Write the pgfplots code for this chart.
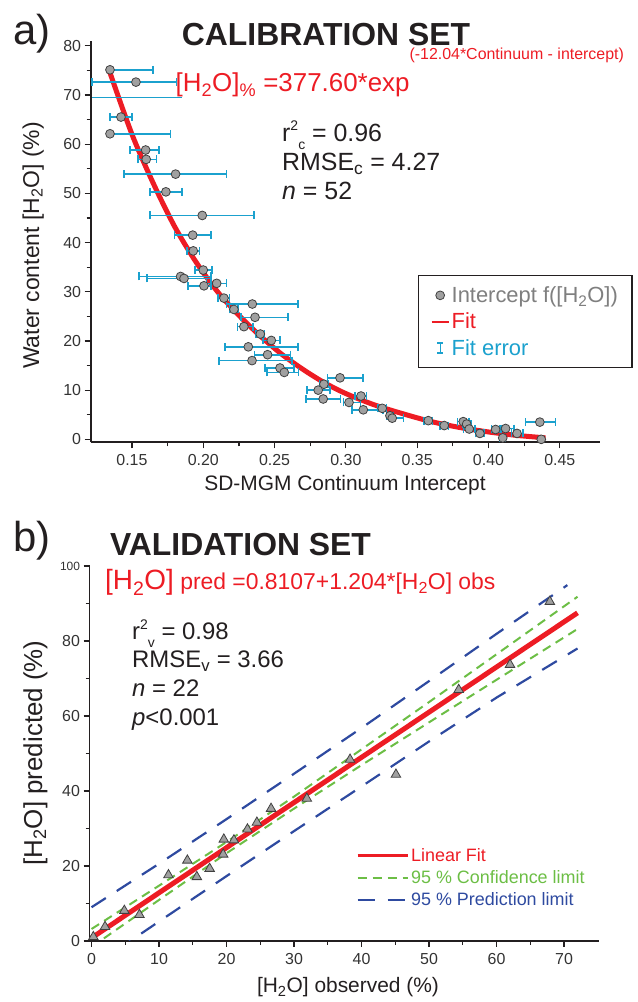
\documentclass[border=0pt]{standalone}
\usepackage{pgfplots}
\pgfplotsset{compat=1.18}
\usepackage{pgfplotstable}
\usepackage{fontspec}
\setmainfont{Liberation Sans}
\definecolor{fitred}{HTML}{ED1C24}
\definecolor{barblue}{HTML}{1BA1CE}
\definecolor{ptgray}{HTML}{A0A0A0}
\definecolor{ptedge}{HTML}{404040}
\definecolor{legray}{HTML}{7F7F7F}
\definecolor{cgreen}{HTML}{6CBE45}
\definecolor{pblue}{HTML}{2E4AA0}
\definecolor{txt}{HTML}{231F20}
\newcommand{\supsub}[2]{\raisebox{0.45em}{\fontsize{14}{14}\selectfont #1}\raisebox{-0.3em}{\fontsize{14}{14}\selectfont #2}}

\pgfplotstableread{
x y em ep
0.1346 75.1 0 0.030
0.1528 72.6 0.031 0.0285
0.1423 65.5 0.0077 0.0077
0.1346 62.1 0 0.0425
0.1596 58.8 0.011 0.0093
0.1600 56.9 0.0056 0.0073
0.1806 53.9 0.036 0.0357
0.1738 50.3 0.0112 0.0111
0.1993 45.5 0.0367 0.0364
0.1926 41.5 0.0129 0.0128
0.1930 38.3 0.0045 0.0045
0.2000 34.4 0.006 0.006
0.1841 33.1 0.029 0.0213
0.1865 32.7 0.026 0.019
0.2005 31.2 0.011 0.005
0.2094 31.7 0.007 0.007
0.2145 28.7 0.004 0.004
0.2344 27.5 0.018 0.032
0.2215 26.4 0.003 0.003
0.2363 24.8 0.010 0.023
0.2285 22.9 0.0044 0.0065
0.2400 21.4 0.003 0.003
0.2477 20.1 0.006 0.006
0.2316 18.8 0.0164 0.035
0.2451 17.2 0.0093 0.016
0.2342 16.0 0.023 0.028
0.2538 14.5 0.0105 0.010
0.2568 13.6 0.0123 0.010
0.2959 12.5 0.0089 0.0163
0.2846 11.2 0.003 0.003
0.2806 10.0 0.008 0.0083
0.2841 8.2 0.012 0.012
0.3106 8.8 0.004 0.004
0.3022 7.5 0.004 0.008
0.3122 6.0 0.008 0.014
0.3255 6.3 0.003 0.003
0.3309 4.8 0.002 0.002
0.3325 4.3 0.002 0.008
0.3578 3.8 0.003 0.003
0.3690 2.8 0.003 0.003
0.3823 3.6 0.004 0.004
0.3847 3.1 0.003 0.003
0.3865 2.1 0.004 0.004
0.3940 1.2 0.003 0.003
0.4050 2.0 0.003 0.003
0.4100 0.3 0.002 0.002
0.4120 2.2 0.003 0.006
0.4200 1.2 0.004 0.004
0.4360 3.5 0.010 0.011
0.4370 0.0 0.001 0.001
}\calib

\pgfplotstableread{
x y
0.27 1.1
2.0 3.8
4.86 8.1
7.1 7.0
11.4 17.6
14.2 21.5
15.6 17.1
17.5 19.3
19.5 23.1
19.6 27.1
21.1 26.9
23.1 29.8
24.5 31.6
26.6 35.3
31.9 38.0
38.3 48.4
45.1 44.4
54.4 67.0
62.0 73.7
67.9 90.5
}\valid

\begin{document}
\begin{tikzpicture}[x=1bp,y=1bp]
\useasboundingbox (0,0) rectangle (638,1002);

% ---------------- top panel ----------------
\begin{axis}[
  at={(90.6bp,559.7bp)}, anchor=south west, scale only axis,
  width=509.1bp, height=401.5bp,
  xmin=0.121, xmax=0.478, ymin=-0.6, ymax=81,
  axis lines=left, axis line style={-, line width=1.8bp, txt},
  xtick={0.15,0.2,0.25,0.3,0.35,0.4,0.45},
  xticklabels={0.15,0.20,0.25,0.30,0.35,0.40,0.45},
  minor x tick num=1,
  ytick={0,10,20,30,40,50,60,70,80}, minor y tick num=1,
  tick align=outside, major tick length=6bp, minor tick length=4bp,
  tick style={txt, line width=1.2bp},
  tick label style={font=\fontsize{16}{19}\selectfont, color=black!80},
  xticklabel style={yshift=-3bp},
  /pgf/number format/assume math mode=true,
  clip mode=individual,
  legend cell align=left,
  legend style={at={(0.643,0.4167)}, anchor=north west, draw=txt, line width=1.4bp,
    fill=white, inner xsep=12bp, inner ysep=9bp, row sep=5bp,
    font=\fontsize{22}{25}\selectfont},
]
\addplot[fitred, line width=5bp, smooth, forget plot] coordinates {
(0.134,75) (0.15,62) (0.165,52) (0.18,43.2) (0.195,36) (0.21,30) (0.225,25.2)
(0.24,21) (0.255,17.3) (0.27,14.2) (0.285,11.5) (0.30,9.3) (0.32,7) (0.34,5.2)
(0.36,3.6) (0.38,2.4) (0.40,1.5) (0.42,0.8) (0.44,0.3)};
\addplot[draw=none, mark=none, forget plot,
  error bars/.cd, x dir=both, x explicit,
  error bar style={draw=barblue, line width=1.6bp},
  error mark=|, error mark options={draw=barblue, line width=1.6bp, mark size=4bp}]
  table[x=x, y=y, x error plus=ep, x error minus=em]{\calib};
\addplot[draw=none, mark=none, forget plot,
  error bars/.cd, x dir=both, x explicit,
  error bar style={draw=barblue, line width=1.6bp}, error mark=none]
  coordinates {(0.1533,69.5) +- (0.0316,0)};
\addplot[only marks, mark=*, mark size=4.4bp,
  mark options={fill=ptgray, draw=ptedge, line width=0.8bp}, forget plot]
  table[x=x, y=y]{\calib};
\addlegendimage{only marks, mark=*, mark size=4.4bp, mark options={fill=ptgray, draw=ptedge, line width=0.8bp}}
\addlegendentry{\textcolor{legray}{Intercept f([H\textsubscript{2}O])}}
\addlegendimage{fitred, line width=2bp}
\addlegendentry{\textcolor{fitred}{Fit}}
\addlegendimage{legend image code/.code={\draw[barblue, line width=1.2bp] (0.3cm,-5bp)--(0.3cm,5bp) (0.3cm-3bp,-5bp)--(0.3cm+3bp,-5bp) (0.3cm-3bp,5bp)--(0.3cm+3bp,5bp);}}
\addlegendentry{\textcolor{barblue}{Fit error}}
\end{axis}

% ---------------- bottom panel ----------------
\begin{axis}[
  at={(89.5bp,61bp)}, anchor=south west, scale only axis,
  width=509.6bp, height=375bp,
  xmin=-0.3, xmax=75.2, ymin=0, ymax=100,
  axis lines=left, axis line style={-, line width=1.8bp, txt},
  xtick={0,10,20,30,40,50,60,70}, minor x tick num=1,
  ytick={0,20,40,60,80,100}, minor y tick num=1,
  yticklabels={0,20,40,60,80,{\fontsize{12}{14}\selectfont 100}},
  tick align=outside, major tick length=6bp, minor tick length=4bp,
  tick style={txt, line width=1.2bp},
  tick label style={font=\fontsize{16}{19}\selectfont, color=black!80},
  xticklabel style={yshift=-3bp},
  /pgf/number format/assume math mode=true,
  clip mode=individual,
  legend cell align=left,
  legend image code/.code={\draw[#1] (0bp,0bp) -- (50bp,0bp);},
  legend style={at={(0.517,0.258)}, anchor=north west, draw=none, fill=none,
    font=\fontsize{18}{21}\selectfont, row sep=3.5bp},
]
\addplot[pblue, line width=2.2bp, dash pattern=on 17bp off 13bp, forget plot] coordinates {
(0,9.0) (10,20.6) (20,32.5) (30,44.6) (40,56.8) (50,69.3) (60,81.9) (70.5,94.9)};
\addplot[pblue, line width=2.2bp, dash pattern=on 17bp off 13bp, forget plot] coordinates {
(0,-7.0) (10,5.2) (20,17.3) (30,29.3) (40,41.2) (50,53.2) (60,64.9) (72,78.0)};
\addplot[cgreen, line width=2bp, dash pattern=on 9bp off 6bp, forget plot] coordinates {
(0,3.2) (10,14.75) (20,26.4) (30,38.5) (40,51.1) (50,63.7) (60,76.45) (72,91.8)};
\addplot[cgreen, line width=2bp, dash pattern=on 9bp off 6bp, forget plot] coordinates {
(0,-1.6) (10,10.95) (20,23.4) (30,35.3) (40,46.9) (50,58.3) (60,69.65) (72,83.2)};
\addplot[fitred, line width=5bp, forget plot] coordinates {(0,0.81) (72,87.5)};
\addplot[only marks, mark=triangle*, mark size=5.5bp,
  mark options={fill=ptgray, draw=ptedge, line width=0.8bp}, forget plot]
  table[x=x, y=y]{\valid};
\addlegendimage{fitred, line width=3bp}
\addlegendentry{\textcolor{fitred}{Linear Fit}}
\addlegendimage{cgreen, line width=2bp, dash pattern=on 9bp off 6bp}
\addlegendentry{\textcolor{cgreen}{95 \% Confidence limit}}
\addlegendimage{pblue, line width=2.2bp, dash pattern=on 17bp off 13bp}
\addlegendentry{\textcolor{pblue}{95 \% Prediction limit}}
\end{axis}

% ---------------- texts ----------------
\node[anchor=base west, inner sep=0, font=\fontsize{42}{46}\selectfont, txt] at (13,957) {a)};
\node[anchor=base, inner sep=0, font=\bfseries\fontsize{32}{36}\selectfont, txt] at (326,956) {CALIBRATION SET};
\node[anchor=base west, inner sep=0, text=fitred] at (175.5,910)
  {\fontsize{26}{30}\selectfont [H\textsubscript{2}O]\textsubscript{\%} =377.60*exp\raisebox{32bp}{\fontsize{16}{19}\selectfont (-12.04*Continuum - intercept)}};
\node[anchor=base west, inner sep=0, font=\fontsize{25}{30}\selectfont, txt] at (282,860) {r\supsub{2}{c} = 0.96};
\node[anchor=base west, inner sep=0, font=\fontsize{25}{30}\selectfont, txt] at (282,831) {RMSE\textsubscript{c} = 4.27};
\node[anchor=base west, inner sep=0, font=\fontsize{25}{30}\selectfont, txt] at (282,802) {\textit{n} = 52};
\node[anchor=base, inner sep=0, rotate=90, font=\fontsize{23}{27}\selectfont, txt] at (39,756.5) {Water content [H\textsubscript{2}O] (\%)};
\node[anchor=base, inner sep=0, font=\fontsize{21}{25}\selectfont, txt] at (345,511) {SD-MGM Continuum Intercept};

\node[anchor=base west, inner sep=0, font=\fontsize{42}{46}\selectfont, txt] at (13,450) {b)};
\node[anchor=base, inner sep=0, font=\bfseries\fontsize{32}{36}\selectfont, txt] at (240.5,446) {VALIDATION SET};
\node[anchor=base west, inner sep=0, text=fitred] at (105,412)
  {\fontsize{28}{32}\selectfont [H\textsubscript{2}O]\fontsize{23}{27}\selectfont{} pred =0.8107+1.204*[H\textsubscript{2}O] obs};
\node[anchor=base west, inner sep=0, font=\fontsize{24}{28}\selectfont, txt] at (132,362) {r\supsub{2}{v} = 0.98};
\node[anchor=base west, inner sep=0, font=\fontsize{24}{28}\selectfont, txt] at (132,334) {RMSE\textsubscript{v} = 3.66};
\node[anchor=base west, inner sep=0, font=\fontsize{24}{28}\selectfont, txt] at (132,305) {\textit{n} = 22};
\node[anchor=base west, inner sep=0, font=\fontsize{24}{28}\selectfont, txt] at (132,276) {\textit{p}<0.001};
\node[anchor=base, inner sep=0, rotate=90, font=\fontsize{26}{30}\selectfont, txt] at (42,249) {[H\textsubscript{2}O] predicted (\%)};
\node[anchor=base, inner sep=0, font=\fontsize{21}{25}\selectfont, txt] at (348,9) {[H\textsubscript{2}O] observed (\%)};
\end{tikzpicture}
\end{document}
